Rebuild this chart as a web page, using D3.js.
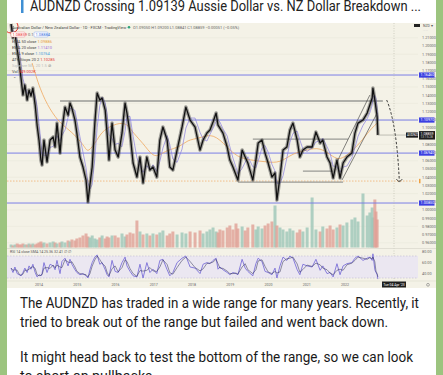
<html>
<head>
<meta charset="utf-8">
<script src="https://d3js.org/d3.v7.min.js"></script>
<style>
body {
  margin: 0;
  width: 443px;
  height: 375px;
  overflow: hidden;
  font-family: Roboto, "Open Sans", sans-serif;
}
svg { display: block; }
.tiny { font-family: Roboto, sans-serif; }
</style>
</head>
<body>
<svg width="443" height="375"></svg>
<script>

// ---- data ----
// daily AUDNZD, sampled roughly monthly (decimal year, close)
var years = [2013.27,2013.32,2013.37,2013.43,2013.48,2013.53,2013.58,2013.63,2013.69,2013.74,2013.79,2013.84,2013.90,2013.95,
  2014.00,2014.05,2014.08,2014.13,2014.21,2014.29,2014.37,2014.42,2014.47,2014.55,2014.60,2014.68,2014.76,2014.81,2014.86,2014.94,2014.99,
  2015.07,2015.15,2015.23,2015.28,2015.33,2015.39,2015.46,2015.52,2015.59,2015.65,2015.73,2015.78,2015.83,2015.91,2015.99,
  2016.07,2016.17,2016.25,2016.30,2016.38,2016.46,2016.56,2016.64,2016.72,2016.82,2016.90,2016.98,
  2017.08,2017.16,2017.24,2017.35,2017.42,2017.50,2017.61,2017.74,2017.84,2017.95,
  2018.08,2018.21,2018.29,2018.39,2018.47,2018.55,2018.63,2018.68,2018.73,2018.81,2018.92,2018.99,
  2019.07,2019.15,2019.20,2019.31,2019.39,2019.46,2019.59,2019.67,2019.73,2019.83,2019.91,2019.99,
  2020.09,2020.17,2020.22,2020.30,2020.38,2020.48,2020.56,2020.64,2020.75,2020.82,2020.90,
  2021.01,2021.14,2021.24,2021.35,2021.42,2021.53,2021.61,2021.69,2021.79,2021.87,2021.95,
  2022.05,2022.18,2022.26,2022.34,2022.47,2022.58,2022.65,2022.71,2022.73,2022.78,2022.81,2022.84,2022.86];

var closes = [1.2268,1.2097,1.2158,1.1951,1.1804,1.1609,1.1402,1.1524,1.1341,1.1463,1.1390,1.1487,1.1280,1.1036,
  1.0853,1.0609,1.0548,1.0853,1.0585,1.0853,1.0890,1.0768,1.1060,1.0694,1.0975,1.1255,1.1158,1.1304,1.1243,1.1097,1.0938,
  1.0646,1.0524,1.0365,1.0097,1.0304,1.0524,1.1060,1.1426,1.1341,1.1365,1.1219,1.0938,1.0609,1.1060,1.0731,
  1.0646,1.0938,1.1304,1.1182,1.0938,1.0573,1.0402,1.0646,1.0329,1.0646,1.0487,1.0524,
  1.0402,1.0853,1.1012,1.0853,1.0524,1.0487,1.0731,1.1012,1.1255,1.1097,
  1.1012,1.0731,1.0853,1.0938,1.0975,1.1073,1.1182,1.1036,1.0999,1.0938,1.0768,1.0609,
  1.0524,1.0426,1.0365,1.0731,1.0646,1.0573,1.0365,1.0609,1.0816,1.0853,1.0694,1.0573,
  1.0402,1.0451,1.0121,1.0402,1.0731,1.0768,1.0975,1.1060,1.0853,1.0646,1.0731,
  1.0768,1.0768,1.0951,1.0816,1.0853,1.0646,1.0573,1.0390,1.0609,1.0390,1.0573,
  1.0646,1.0694,1.0938,1.1060,1.1097,1.1182,1.1280,1.1365,1.1487,1.1341,1.1243,1.1134,1.0914];

var volumes = [3,2,3,4,3,3,4,3,3,4,3,4,3,4,
  5,6,4,5,4,5,6,5,4,5,6,5,7,6,8,7,
  9,10,12,14,11,10,12,9,8,10,12,9,11,10,12,
  12,10,14,11,13,15,14,27,16,13,14,12,
  14,13,15,17,12,14,16,13,15,14,
  16,15,17,14,16,18,20,16,15,18,17,20,
  22,18,24,19,21,17,20,23,18,21,19,22,
  24,26,42,22,20,18,16,19,17,15,18,
  16,20,50,18,16,21,19,22,18,20,23,
  22,25,28,30,26,54,32,35,40,30,48,36,28];

var rsi = [48,40,50,38,36,34,40,48,40,52,46,55,40,32,
  36,34,38,58,40,55,52,45,62,38,60,66,52,64,55,45,40,
  36,38,34,30,45,58,68,72,55,58,45,36,32,62,42,
  40,58,68,52,42,34,32,55,30,58,40,46,
  38,62,64,45,34,40,58,66,70,50,
  48,38,55,58,56,62,66,46,50,45,40,36,
  40,38,36,64,48,42,34,56,66,60,42,40,
  36,48,30,52,68,62,70,66,45,36,55,
  52,50,64,44,52,38,40,32,56,36,52,
  56,58,66,70,62,66,68,62,74,45,40,36,28];

// slow EMA (orange)
var emaYears = [2013.82,2014.03,2014.29,2014.55,2014.73,2014.99,2015.20,2015.28,2015.52,2015.67,2016.04,2016.30,2016.46,2016.72,
  2016.98,2017.16,2017.35,2017.69,2017.87,2018.21,2018.55,2018.92,2019.18,2019.52,2019.96,2020.30,2020.64,2021.01,2021.35,
  2021.69,2021.87,2022.13,2022.39,2022.65,2022.84];
var emaValues = [1.1792,1.1463,1.1219,1.1060,1.0999,1.0890,1.0768,1.0694,1.0853,1.0975,1.1060,1.1060,1.0938,1.0816,
  1.0646,1.0670,1.0731,1.0768,1.0853,1.0877,1.0938,1.0768,1.0646,1.0609,1.0585,1.0573,1.0694,1.0731,1.0768,
  1.0646,1.0609,1.0694,1.0816,1.0975,1.1060];

// drawn horizontal levels
var blueLevels = [1.1646, 1.1097, 1.0694, 1.0085];
var orangeLevel = 1.0353;
var grayLevels = [
  {price: 1.1329, from: 2014.55, to: 2022.99},
  {price: 1.0865, from: 2019.59, to: 2022.08},
  {price: 1.0475, from: 2020.90, to: 2021.69},
  {price: 1.0341, from: 2019.20, to: 2021.95}
];
var channel = [
  [[2021.79, 1.0585], [2022.65, 1.1402]],
  [[2021.92, 1.0365], [2022.84, 1.1182]]
];

var yearLabels = ["2014","2015","2016","2017","2018","2019","2020","2021","2022"];
var priceTicks = [0.96,0.97,0.98,0.99,1.00,1.01,1.02,1.03,1.04,1.05,1.06,1.07,1.08,
  1.10,1.11,1.12,1.13,1.14,1.15,1.16,1.17,1.18,1.19,1.20,1.21];
var rsiTicks = [80, 60, 40];
var lastPrice = 1.09139;

var title = "AUDNZD Crossing 1.09139 Aussie Dollar vs. NZ Dollar Breakdown ...";
var bodyLines = [
  "The AUDNZD has traded in a wide range for many years. Recently, it",
  "tried to break out of the range but failed and went back down.",
  "",
  "It might head back to test the bottom of the range, so we can look",
  "to short on pullbacks."
];

// ---- layout ----
var svg = d3.select("svg");
var card = {left: 7, right: 436};
var chartTop = 23, chartBottom = 288;
var plotRight = 418;
var pricePane = {top: 23, bottom: 248.5};
var rsiPane = {top: 248.5, bottom: 281};

var x = d3.scaleLinear().domain([2014, 2022]).range([39, 345]);
var y = d3.scaleLinear().domain([0.95, 1.21]).range([251, 37.8]);
var yVol = d3.scaleLinear().domain([0, 100]).range([247.5, 147.5]);
var yRsi = d3.scaleLinear().domain([80, 40]).range([250.5, 272.5]);

var pts = years.map(function(t, i) { return {t: t, p: closes[i], v: volumes[i], r: rsi[i]}; });

// background
svg.append("rect").attr("width", 443).attr("height", 375).attr("fill", "#9cc47f");
svg.append("rect").attr("x", card.left).attr("y", 0).attr("width", card.right - card.left).attr("height", 375).attr("fill", "#ffffff");

// title
svg.append("rect").attr("x", 21).attr("y", 0).attr("width", 2.5).attr("height", 13).attr("fill", "#3f8fd4");
svg.append("text").attr("x", 30).attr("y", 11).text(title)
  .attr("font-size", 15).attr("fill", "#222")
  .attr("textLength", 391).attr("lengthAdjust", "spacingAndGlyphs");

// chart image
var chart = svg.append("g");
chart.append("clipPath").attr("id", "plotClip").append("rect")
  .attr("x", card.left).attr("y", pricePane.top).attr("width", plotRight - card.left).attr("height", pricePane.bottom - pricePane.top);
chart.append("clipPath").attr("id", "rsiClip").append("rect")
  .attr("x", card.left).attr("y", rsiPane.top).attr("width", plotRight - card.left).attr("height", rsiPane.bottom - rsiPane.top);

chart.append("rect").attr("x", card.left).attr("y", chartTop).attr("width", card.right - card.left)
  .attr("height", chartBottom - chartTop).attr("fill", "#f4f2e7");

var plot = chart.append("g").attr("clip-path", "url(#plotClip)");

// faint grid
plot.selectAll(".hgrid").data(priceTicks.filter(function(d, i) { return i % 2 == 0; })).enter().append("line")
  .attr("x1", card.left).attr("x2", plotRight)
  .attr("y1", d => y(d)).attr("y2", d => y(d))
  .attr("stroke", "#e9e7da").attr("stroke-width", 0.6);

// volume
var barW = 3;
plot.selectAll(".vol").data(pts).enter().append("rect")
  .attr("x", d => x(d.t) - barW / 2)
  .attr("y", d => yVol(d.v))
  .attr("width", barW)
  .attr("height", d => yVol(0) - yVol(d.v))
  .attr("fill", function(d, i) { return (i > 0 && d.p < pts[i - 1].p) ? "#e0a096" : "#9cc6b8"; })
  .attr("opacity", 0.8);

// levels
plot.selectAll(".blue").data(blueLevels).enter().append("line")
  .attr("x1", card.left).attr("x2", plotRight)
  .attr("y1", d => y(d)).attr("y2", d => y(d))
  .attr("stroke", "#7b7fe6").attr("stroke-width", 1);

plot.append("line")
  .attr("x1", card.left).attr("x2", plotRight)
  .attr("y1", y(orangeLevel)).attr("y2", y(orangeLevel))
  .attr("stroke", "#f0b070").attr("stroke-width", 0.8).attr("stroke-dasharray", "1.5,1.5");

plot.selectAll(".gray").data(grayLevels).enter().append("line")
  .attr("x1", d => x(d.from)).attr("x2", d => x(d.to))
  .attr("y1", d => y(d.price)).attr("y2", d => y(d.price))
  .attr("stroke", "#9a9a96").attr("stroke-width", 1.3);

// crosshair
chart.append("line").attr("x1", 394).attr("x2", 394).attr("y1", chartTop).attr("y2", rsiPane.bottom)
  .attr("stroke", "#b8b6aa").attr("stroke-width", 0.6).attr("stroke-dasharray", "1,1.5");

// slow EMA
plot.append("path")
  .datum(emaYears.map(function(t, i) { return [t, emaValues[i]]; }))
  .attr("d", d3.line().x(d => x(d[0])).y(d => y(d[1])).curve(d3.curveBasis))
  .attr("fill", "none").attr("stroke", "#f0a860").attr("stroke-width", 0.8);

// fast average (trailing 3 closes)
var fast = pts.map(function(d, i) {
  var s = pts.slice(Math.max(0, i - 2), i + 1);
  return [d.t, d3.mean(s, e => e.p)];
});
plot.append("path")
  .attr("d", d3.line().x(d => x(d[0])).y(d => y(d[1]))(fast))
  .attr("fill", "none").attr("stroke", "#8a7fe0").attr("stroke-width", 0.7);

// price: soft band under a thinner dark line
var priceLine = d3.line().x(d => x(d.t)).y(d => y(d.p));
plot.append("path").datum(pts).attr("d", priceLine)
  .attr("fill", "none").attr("stroke", "#3a3a3a").attr("stroke-opacity", 0.45)
  .attr("stroke-width", 3.6).attr("stroke-linejoin", "round");
plot.append("path").datum(pts).attr("d", priceLine)
  .attr("fill", "none").attr("stroke", "#111").attr("stroke-width", 1.3).attr("stroke-linejoin", "round");

// channel
plot.selectAll(".chan").data(channel).enter().append("line")
  .attr("x1", d => x(d[0][0])).attr("y1", d => y(d[0][1]))
  .attr("x2", d => x(d[1][0])).attr("y2", d => y(d[1][1]))
  .attr("stroke", "#333").attr("stroke-width", 0.6);

// last price line
var last = pts[pts.length - 1];
plot.append("line").attr("x1", x(last.t)).attr("x2", plotRight)
  .attr("y1", y(last.p)).attr("y2", y(last.p))
  .attr("stroke", "#9a9890").attr("stroke-width", 0.6);

// red circle on the peak
var peak = pts.reduce(function(a, b) { return b.p > a.p ? b : a; });
plot.append("ellipse").attr("cx", x(peak.t)).attr("cy", y(peak.p) + 2.5).attr("rx", 7).attr("ry", 6.5)
  .attr("fill", "none").attr("stroke", "#e2332b").attr("stroke-width", 1);

// projected path down
var proj = [[2023.09, 1.1341], [2023.35, 1.1060], [2023.42, 1.0353]];
plot.append("path")
  .attr("d", "M" + x(proj[0][0]) + "," + y(proj[0][1]) + " Q" + x(proj[1][0]) + "," + y(proj[1][1]) + " " + x(proj[2][0]) + "," + y(proj[2][1]))
  .attr("fill", "none").attr("stroke", "#222").attr("stroke-width", 0.9).attr("stroke-dasharray", "2.5,1.8");
var ax = x(proj[2][0]), ay = y(proj[2][1]) + 1;
plot.append("path").attr("d", "M" + (ax - 3) + "," + (ay - 3) + " L" + ax + "," + ay + " L" + (ax + 3) + "," + (ay - 3))
  .attr("fill", "none").attr("stroke", "#222").attr("stroke-width", 0.8);

// price axis
var axisG = chart.append("g").attr("class", "tiny");
axisG.selectAll(".pt").data(priceTicks).enter().append("text")
  .attr("x", 422).attr("y", d => y(d) + 1.3)
  .text(d => d.toFixed(5))
  .attr("font-size", 3.8).attr("fill", "#666");

// blue level labels
blueLevels.forEach(function(v) {
  axisG.append("rect").attr("x", 419).attr("y", y(v) - 2.6).attr("width", 15.5).attr("height", 5.2).attr("fill", "#3c3fe2");
  axisG.append("text").attr("x", 420.5).attr("y", y(v) + 1.3).text(v.toFixed(5))
    .attr("font-size", 3.8).attr("fill", "#fff");
});
axisG.append("rect").attr("x", 419).attr("y", y(orangeLevel) - 2.2).attr("width", 1.5).attr("height", 4.4).attr("fill", "#f0a040");

// last price label
axisG.append("rect").attr("x", 406).attr("y", y(lastPrice) - 2.6).attr("width", 12).attr("height", 5.2).attr("fill", "#1e1e1e");
axisG.append("text").attr("x", 407).attr("y", y(lastPrice) + 1.2).text("AUDNZD").attr("font-size", 3.2).attr("fill", "#fff");
axisG.append("rect").attr("x", 419).attr("y", y(lastPrice) - 4).attr("width", 16).attr("height", 8.5).attr("fill", "#1e1e1e");
axisG.append("text").attr("x", 420.5).attr("y", y(lastPrice) - 0.3).text("1.08859").attr("font-size", 3.6).attr("fill", "#fff");
axisG.append("text").attr("x", 420.5).attr("y", y(lastPrice) + 3.4).text("13:15:28").attr("font-size", 3.2).attr("fill", "#ccc");

// currency badge
axisG.append("rect").attr("x", 414).attr("y", 24).attr("width", 6).attr("height", 3).attr("fill", "#222");
axisG.append("text").attr("x", 423).attr("y", 27).text("NZD \u25BE").attr("font-size", 3.5).attr("fill", "#555");
axisG.append("text").attr("x", 423).attr("y", 31).text("........").attr("font-size", 2.5).attr("fill", "#aaa");

// legend, top left
var leg = chart.append("g").attr("class", "tiny").attr("font-size", 4);
leg.append("text").attr("x", 12).attr("y", 28.5).attr("fill", "#444")
  .text("Australian Dollar / New Zealand Dollar \u00B7 1D \u00B7 FXCM \u00B7 TradingView");
leg.append("circle").attr("cx", 129).attr("cy", 27.3).attr("r", 1.3).attr("fill", "#2fa37a");
leg.append("text").attr("x", 133).attr("y", 28.5).attr("fill", "#666")
  .text("O1.09050 H1.09200 L1.08841 C1.08859 \u22120.00051 (\u22120.05%)");
leg.append("rect").attr("x", 11).attr("y", 32).attr("width", 14).attr("height", 5).attr("rx", 1)
  .attr("fill", "#fff").attr("stroke", "#e88").attr("stroke-width", 0.5);
leg.append("text").attr("x", 12.5).attr("y", 35.7).attr("fill", "#e33").text("1.08859");
leg.append("text").attr("x", 28).attr("y", 35.7).attr("fill", "#666").text("0.1");
leg.append("rect").attr("x", 34).attr("y", 32).attr("width", 14).attr("height", 5).attr("rx", 1)
  .attr("fill", "#fff").attr("stroke", "#88a8ee").attr("stroke-width", 0.5);
leg.append("text").attr("x", 35.5).attr("y", 35.7).attr("fill", "#3a6fe0").text("1.08884");

var legRows = [
  ["EMA 50 close", "1.09886", "#e8a040"],
  ["EMA 20 close", "1.11410", "#a070d8"],
  ["EMA 9 close", "1.10764", "#4aa0e0"],
  ["ATR Stops 20 2", "1.10285", "#e53935"],
  ["Squeeze M... 20 1.5", "\u2298", "#777"],
  ["Vol", "349.002K", "#e53935"]
];
legRows.forEach(function(r, i) {
  var t = leg.append("text").attr("x", 12).attr("y", 42.5 + i * 6);
  t.append("tspan").attr("fill", i == 4 ? "#bbb" : "#444").text(r[0] + " ");
  t.append("tspan").attr("fill", r[2]).text(r[1]);
});
leg.append("text").attr("x", 12.5).attr("y", 80).attr("fill", "#555").text("\u2303");

// rsi pane
chart.append("line").attr("x1", card.left).attr("x2", card.right).attr("y1", rsiPane.top).attr("y2", rsiPane.top)
  .attr("stroke", "#d9d7cb").attr("stroke-width", 0.7);
var rsiG = chart.append("g").attr("clip-path", "url(#rsiClip)");
rsiG.append("rect").attr("x", card.left).attr("width", plotRight - card.left)
  .attr("y", yRsi(70)).attr("height", yRsi(30) - yRsi(70)).attr("fill", "#ebe7f1");
[70, 30].forEach(function(v) {
  rsiG.append("line").attr("x1", card.left).attr("x2", plotRight).attr("y1", yRsi(v)).attr("y2", yRsi(v))
    .attr("stroke", "#b5afc8").attr("stroke-width", 0.5).attr("stroke-dasharray", "1.5,1.5");
});
var rsiLine = d3.line().x(d => x(d.t)).y(d => yRsi(d.r));
rsiG.append("path").datum(pts).attr("d", rsiLine)
  .attr("fill", "none").attr("stroke", "#7c70d8").attr("stroke-width", 0.9);
var rsiSmooth = pts.map(function(d, i) {
  var s = pts.slice(Math.max(0, i - 1), i + 1);
  return {t: d.t, r: d3.mean(s, e => e.r)};
});
rsiG.append("path").datum(rsiSmooth).attr("d", rsiLine)
  .attr("fill", "none").attr("stroke", "#2a2a50").attr("stroke-width", 0.5);

chart.append("text").attr("class", "tiny").attr("x", 10).attr("y", 253.2).attr("font-size", 3.6).attr("fill", "#555")
  .text("RSI 14 close SMA 14  25.36  32.41  \u2205 \u2205");
chart.selectAll(".rt").data(rsiTicks).enter().append("text").attr("class", "tiny")
  .attr("x", 422).attr("y", d => yRsi(d) + 2).text(d => d.toFixed(2))
  .attr("font-size", 3.8).attr("fill", "#666");

// time axis
chart.append("line").attr("x1", card.left).attr("x2", card.right).attr("y1", rsiPane.bottom).attr("y2", rsiPane.bottom)
  .attr("stroke", "#dddbcf").attr("stroke-width", 0.6);
chart.selectAll(".yl").data(yearLabels).enter().append("text").attr("class", "tiny")
  .attr("x", d => x(+d)).attr("y", 286).attr("text-anchor", "middle")
  .text(d => d).attr("font-size", 3.6).attr("fill", "#666");
chart.append("rect").attr("x", 382).attr("y", 281.5).attr("width", 24).attr("height", 6).attr("fill", "#1e1e1e");
chart.append("text").attr("class", "tiny").attr("x", 394).attr("y", 285.8).attr("text-anchor", "middle")
  .attr("font-size", 3.4).attr("fill", "#fff").text("Tue 04 Apr '23");
chart.append("circle").attr("cx", 428).attr("cy", 284.8).attr("r", 1.4)
  .attr("fill", "none").attr("stroke", "#777").attr("stroke-width", 0.6);

// post text
var lineY = [308, 327, 346, 362, 381];
var lineLen = [399, 368, 0, 393, 0];
bodyLines.forEach(function(s, i) {
  if (!s) return;
  var t = svg.append("text").attr("x", 20).attr("y", lineY[i]).text(s)
    .attr("font-size", 14.2).attr("fill", "#1a1a1a");
  if (lineLen[i]) t.attr("textLength", lineLen[i]).attr("lengthAdjust", "spacingAndGlyphs");
});

</script>
</body>
</html>
